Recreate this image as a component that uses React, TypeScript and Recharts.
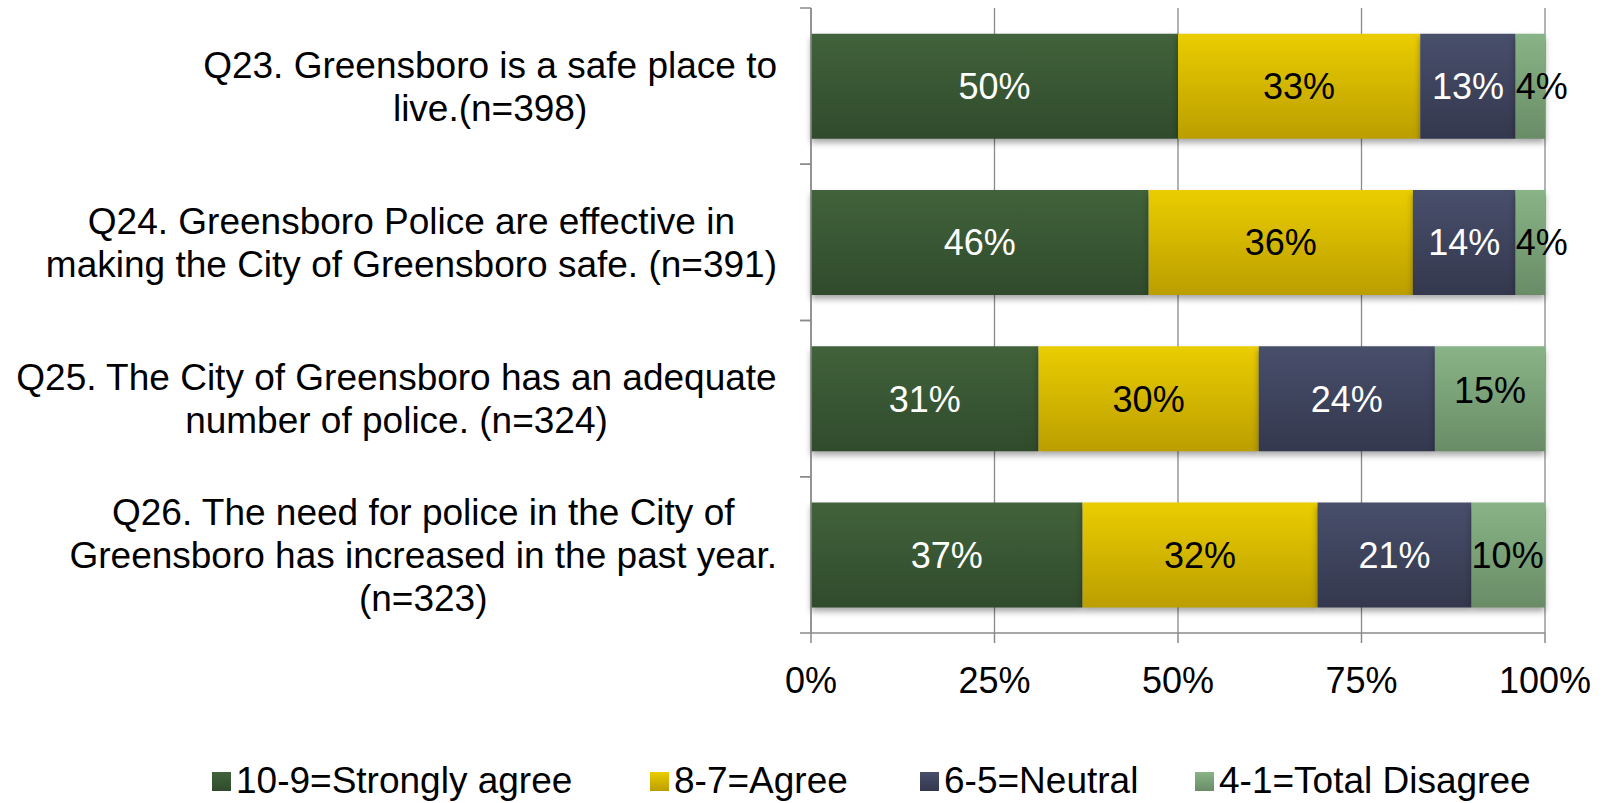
// Greensboro public-safety survey: 100% stacked horizontal bars (Recharts).
import { Bar, BarChart, CartesianGrid, LabelList, Legend, XAxis, YAxis } from 'recharts'

const questions = [
  ['Q23. Greensboro is a safe place to', 'live.(n=398)'],
  ['Q24. Greensboro Police are effective in', 'making the City of Greensboro safe. (n=391)'],
  ['Q25. The City of Greensboro has an adequate', 'number of police. (n=324)'],
  ['Q26. The need for police in the City of', 'Greensboro has increased in the past year.', '(n=323)'],
]
const stronglyAgree = [50, 46, 31, 37]
const agree = [33, 36, 30, 32]
const neutral = [13, 14, 24, 21]
const disagree = [4, 4, 15, 10]
const seriesNames = ['10-9=Strongly agree', '8-7=Agree', '6-5=Neutral', '4-1=Total Disagree']
const xTicks = [0, 25, 50, 75, 100]

const data = questions.map((lines, i) => ({
  name: lines.join('\n'),
  strong: stronglyAgree[i],
  agree: agree[i],
  neutral: neutral[i],
  disagree: disagree[i],
}))

const FONT = '"Liberation Sans", Arial, sans-serif'
const W = 1607
const H = 803
const TOP = 8
const XAXIS_H = 170
const BAND = (H - TOP - XAXIS_H) / questions.length
const GRAY = '#8a8a8a'

const series = [
  { key: 'strong', top: '#41623b', bottom: '#304b2c', text: '#ffffff' },
  { key: 'agree', top: '#eacd00', bottom: '#bb9e00', text: '#000000' },
  { key: 'neutral', top: '#484f6b', bottom: '#34384e', text: '#ffffff' },
  { key: 'disagree', top: '#89b487', bottom: '#698c66', text: '#000000' },
]
const legendX = [212, 650, 920, 1195]

let ctx: CanvasRenderingContext2D | null = null
function measure(s: string, size: number) {
  if (!ctx) ctx = document.createElement('canvas').getContext('2d')
  if (!ctx) return s.length * size * 0.5
  ctx.font = `${size}px "Liberation Sans", Arial, sans-serif`
  return ctx.measureText(s).width
}

function QuestionTick(props: any) {
  const { x, y, payload } = props
  const lines: string[] = String(payload.value).split('\n')
  const size = 37
  const lh = 43
  const maxW = Math.max(...lines.map((l) => measure(l, size)))
  const cx = x - 34 - maxW / 2
  const y0 = y - ((lines.length - 1) * lh) / 2
  return (
    <g>
      <line x1={x - 11} x2={x} y1={y - BAND / 2} y2={y - BAND / 2} stroke={GRAY} strokeWidth={1.5} />
      <line x1={x - 11} x2={x} y1={y + BAND / 2} y2={y + BAND / 2} stroke={GRAY} strokeWidth={1.5} />
      <text x={cx} y={y0} textAnchor="middle" fontSize={size} fontFamily={FONT} fill="#000">
        {lines.map((l, i) => (
          <tspan key={i} x={cx} y={y0 + i * lh} dy="0.36em">
            {l}
          </tspan>
        ))}
      </text>
    </g>
  )
}

function makeLabel(idx: number) {
  return (props: any) => {
    const { x, y, width, height, value } = props
    const txt = `${value}%`
    const size = 36
    const tw = measure(txt, size)
    const fits = tw < width - 4
    const last = idx === series.length - 1
    return (
      <text
        x={fits ? x + width / 2 : x}
        y={y + height / 2 + (fits && last ? -9 : 0)}
        dy="0.36em"
        textAnchor={fits ? 'middle' : 'start'}
        fontSize={size}
        fontFamily={FONT}
        fill={series[idx].text}
      >
        {txt}
      </text>
    )
  }
}

function LegendBox() {
  return (
    <div style={{ position: 'relative', width: W, height: 30, fontFamily: FONT, fontSize: 37 }}>
      {seriesNames.map((n, i) => (
        <div
          key={n}
          style={{ position: 'absolute', left: legendX[i], top: 0, height: 30, display: 'flex', alignItems: 'center', whiteSpace: 'nowrap' }}
        >
          <span
            style={{
              display: 'inline-block',
              width: 19,
              height: 19,
              marginRight: 5,
              background: `linear-gradient(${series[i].top}, ${series[i].bottom})`,
            }}
          />
          <span style={{ lineHeight: '30px' }}>{n}</span>
        </div>
      ))}
    </div>
  )
}

export default function App() {
  return (
    <div style={{ position: 'absolute', left: 0, top: 0, width: W, height: H, background: '#fff' }}>
      <style>{`.recharts-bar-rectangles { filter: drop-shadow(0px 4px 3px rgba(0,0,0,0.35)); }`}</style>
      <BarChart
        width={W}
        height={H}
        data={data}
        layout="vertical"
        barCategoryGap="16.5%"
        margin={{ top: TOP, right: 62, bottom: 0, left: 0 }}
      >
        <defs>
          {series.map((s) => (
            <linearGradient key={s.key} id={`grad-${s.key}`} x1="0" y1="0" x2="0" y2="1">
              <stop offset="0%" stopColor={s.top} />
              <stop offset="100%" stopColor={s.bottom} />
            </linearGradient>
          ))}
        </defs>
        <CartesianGrid horizontal={false} stroke={GRAY} strokeWidth={1.3} />
        <XAxis
          type="number"
          domain={[0, 100]}
          ticks={xTicks}
          tickFormatter={(v: number) => `${v}%`}
          height={XAXIS_H}
          tickSize={10}
          tickMargin={24}
          stroke={GRAY}
          tick={{ fill: '#000', fontSize: 36, fontFamily: FONT }}
          axisLine={{ stroke: GRAY, strokeWidth: 1.5 }}
          tickLine={{ stroke: GRAY, strokeWidth: 1.5 }}
        />
        <YAxis
          type="category"
          dataKey="name"
          width={811}
          tickSize={0}
          tickMargin={0}
          tickLine={false}
          axisLine={{ stroke: GRAY, strokeWidth: 1.5 }}
          tick={<QuestionTick />}
          interval={0}
        />
        <Legend
          layout="horizontal"
          verticalAlign="middle"
          align="center"
          wrapperStyle={{ top: 766, left: 0, width: W }}
          content={() => <LegendBox />}
        />
        {series.map((s, i) => (
          <Bar
            key={s.key}
            dataKey={s.key}
            name={seriesNames[i]}
            stackId="a"
            fill={`url(#grad-${s.key})`}
            isAnimationActive={false}
          >
            <LabelList dataKey={s.key} content={makeLabel(i)} />
          </Bar>
        ))}
      </BarChart>
    </div>
  )
}
